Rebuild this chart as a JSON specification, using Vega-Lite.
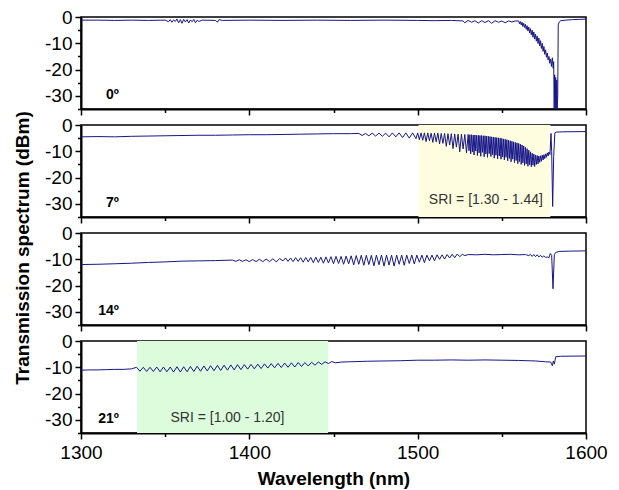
{
"$schema": "https://vega.github.io/schema/vega-lite/v6.json",
"background": "white",
"padding": {"left": 13, "top": 7, "right": 5, "bottom": 5},
"bounds": "flush",
"spacing": 16,
"title": {"text": "Transmission spectrum (dBm)", "orient": "left", "anchor": "middle", "font": "Liberation Sans", "fontSize": 19, "fontWeight": "bold", "color": "black", "offset": 11},
"config": {
  "view": {"stroke": "black", "strokeWidth": 1.5},
  "axis": {"domainColor": "black", "domainWidth": 2, "tickColor": "black", "tickWidth": 1.5, "labelFont": "Liberation Sans", "labelFontSize": 19, "labelColor": "black", "titleFont": "Liberation Sans", "titleFontSize": 19, "titleFontWeight": "bold", "titleColor": "black", "grid": false, "labelFlush": false, "labelOverlap": false}
},
"datasets": {
  "p0": [
    {"x":1300,"y":-1.2},{"x":1310,"y":-1.2},{"x":1320,"y":-1.3},{"x":1330,"y":-1.2},{"x":1340,"y":-1.3},{"x":1350,"y":-1.2},
    {"x":1352,"y":-1.8},{"x":1353,"y":-1.0},{"x":1354,"y":-2.0},{"x":1355,"y":-1.1},{"x":1356,"y":-1.7},{"x":1357,"y":-0.8},{"x":1358,"y":-2.2},{"x":1359,"y":-1.0},{"x":1360,"y":-2.4},{"x":1361,"y":-0.9},{"x":1362,"y":-1.9},{"x":1363,"y":-1.0},{"x":1364,"y":-2.3},{"x":1365,"y":-1.1},{"x":1366,"y":-1.8},{"x":1367,"y":-0.9},{"x":1368,"y":-2.2},{"x":1369,"y":-1.2},{"x":1370,"y":-1.7},{"x":1372,"y":-1.2},
    {"x":1380,"y":-1.3},{"x":1381,"y":-2.0},{"x":1382,"y":-1.0},{"x":1384,"y":-1.3},{"x":1400,"y":-1.2},{"x":1420,"y":-1.3},{"x":1440,"y":-1.2},{"x":1460,"y":-1.3},{"x":1480,"y":-1.2},{"x":1500,"y":-1.3},{"x":1510,"y":-1.4},{"x":1520,"y":-1.3},
    {"x":1527,"y":-1.5},{"x":1528,"y":-2.2},{"x":1530,"y":-1.3},{"x":1532,"y":-2.0},{"x":1534,"y":-1.4},{"x":1536,"y":-2.3},{"x":1538,"y":-1.4},{"x":1540,"y":-2.1},{"x":1542,"y":-1.4},{"x":1544,"y":-2.4},{"x":1546,"y":-1.4},{"x":1548,"y":-2.0},{"x":1550,"y":-1.5},{"x":1552,"y":-2.2},{"x":1554,"y":-1.5},{"x":1556,"y":-1.9},{"x":1558,"y":-1.5},
    {"x":1560,"y":-1.5},{"x":1560.5,"y":-2.6},{"x":1561,"y":-1.7},{"x":1561.5,"y":-3.0},{"x":1562,"y":-2.0},{"x":1562.5,"y":-3.6},{"x":1563,"y":-2.4},{"x":1563.5,"y":-4.0},{"x":1564,"y":-2.8},{"x":1564.5,"y":-4.7},{"x":1565,"y":-3.3},{"x":1565.5,"y":-5.3},{"x":1566,"y":-3.8},{"x":1566.5,"y":-6.1},{"x":1567,"y":-4.4},{"x":1567.5,"y":-6.8},{"x":1568,"y":-5.0},{"x":1568.5,"y":-7.7},{"x":1569,"y":-5.7},{"x":1569.5,"y":-8.4},{"x":1570,"y":-6.5},{"x":1570.5,"y":-9.2},{"x":1571,"y":-7.2},{"x":1571.5,"y":-10.1},{"x":1572,"y":-8.0},{"x":1572.5,"y":-11.0},{"x":1573,"y":-9.0},{"x":1573.5,"y":-12.0},{"x":1574,"y":-10.0},{"x":1574.5,"y":-13.1},{"x":1575,"y":-11.2},{"x":1575.5,"y":-14.2},{"x":1576,"y":-12.5},{"x":1576.5,"y":-15.3},{"x":1577,"y":-13.7},{"x":1577.5,"y":-16.4},{"x":1578,"y":-15.0},{"x":1578.5,"y":-17.6},{"x":1579,"y":-16.0},{"x":1579.5,"y":-18.8},{"x":1580,"y":-15.5},{"x":1580.5,"y":-19.5},
    {"x":1580.8,"y":-17},{"x":1581.1,"y":-35},{"x":1581.4,"y":-22},{"x":1581.7,"y":-35},{"x":1582.0,"y":-23},{"x":1582.3,"y":-35},{"x":1582.6,"y":-24},{"x":1582.9,"y":-35},{"x":1583.2,"y":-30},{"x":1583.5,"y":-3.0},{"x":1584,"y":-2.0},{"x":1585,"y":-1.4},{"x":1588,"y":-1.2},{"x":1592,"y":-1.0},{"x":1596,"y":-0.9},{"x":1600,"y":-0.8}
  ],
  "p7": [
    {"x":1300,"y":-4.5},{"x":1310,"y":-4.4},{"x":1320,"y":-4.5},{"x":1330,"y":-4.3},{"x":1340,"y":-4.2},{"x":1350,"y":-4.1},{"x":1360,"y":-4.0},{"x":1370,"y":-3.9},{"x":1380,"y":-3.9},{"x":1390,"y":-3.8},{"x":1400,"y":-3.7},{"x":1410,"y":-3.7},{"x":1420,"y":-3.6},{"x":1430,"y":-3.5},{"x":1440,"y":-3.4},{"x":1450,"y":-3.3},{"x":1460,"y":-3.3},
    {"x":1465,"y":-3.2},{"x":1467,"y":-4.0},{"x":1469,"y":-3.2},{"x":1471,"y":-4.1},{"x":1473,"y":-3.1},{"x":1475,"y":-4.2},{"x":1477,"y":-3.1},{"x":1479,"y":-4.3},{"x":1481,"y":-3.1},{"x":1483,"y":-4.5},{"x":1485,"y":-3.0},{"x":1487,"y":-4.5},{"x":1489,"y":-3.0},{"x":1491,"y":-4.8},{"x":1493,"y":-3.0},{"x":1495,"y":-5.0},{"x":1497,"y":-3.0},{"x":1499,"y":-5.2},
    {"x":1500,"y":-3.0},{"x":1501,"y":-5.6},{"x":1502,"y":-3.0},{"x":1503,"y":-5.8},{"x":1504,"y":-3.0},{"x":1505,"y":-6.3},{"x":1506,"y":-3.0},{"x":1507,"y":-6.0},{"x":1508,"y":-3.1},{"x":1509,"y":-6.6},{"x":1510,"y":-3.1},{"x":1511,"y":-6.4},{"x":1512,"y":-3.1},{"x":1513,"y":-7.2},{"x":1514,"y":-3.2},{"x":1515,"y":-7.0},{"x":1516,"y":-3.2},{"x":1517,"y":-8.1},{"x":1518,"y":-3.3},{"x":1519,"y":-7.6},{"x":1520,"y":-3.3},{"x":1521,"y":-9.0},{"x":1522,"y":-3.4},{"x":1523,"y":-8.4},{"x":1524,"y":-3.5},{"x":1525,"y":-10.2},{"x":1526,"y":-3.5},{"x":1527,"y":-9.1},{"x":1528,"y":-3.6},{"x":1529,"y":-10.6},
    {"x":1530,"y":-3.6},{"x":1530.5,"y":-9.8},{"x":1531,"y":-3.7},{"x":1531.5,"y":-11.0},{"x":1532,"y":-3.7},{"x":1532.5,"y":-10.2},{"x":1533,"y":-3.8},{"x":1533.5,"y":-11.4},{"x":1534,"y":-3.8},{"x":1534.5,"y":-9.9},{"x":1535,"y":-3.9},{"x":1535.5,"y":-11.6},{"x":1536,"y":-3.9},{"x":1536.5,"y":-10.6},{"x":1537,"y":-4.0},{"x":1537.5,"y":-11.9},{"x":1538,"y":-4.0},{"x":1538.5,"y":-10.4},{"x":1539,"y":-4.1},{"x":1539.5,"y":-12.1},
    {"x":1540,"y":-4.1},{"x":1540.5,"y":-11.0},{"x":1541,"y":-4.2},{"x":1541.5,"y":-12.3},{"x":1542,"y":-4.3},{"x":1542.5,"y":-10.9},{"x":1543,"y":-4.4},{"x":1543.5,"y":-12.0},{"x":1544,"y":-4.5},{"x":1544.5,"y":-11.3},{"x":1545,"y":-4.6},{"x":1545.5,"y":-12.6},{"x":1546,"y":-4.7},{"x":1546.5,"y":-11.5},{"x":1547,"y":-4.8},{"x":1547.5,"y":-12.9},{"x":1548,"y":-4.9},{"x":1548.5,"y":-11.8},{"x":1549,"y":-5.0},{"x":1549.5,"y":-13.0},
    {"x":1550,"y":-5.1},{"x":1550.5,"y":-12.1},{"x":1551,"y":-5.3},{"x":1551.5,"y":-13.3},{"x":1552,"y":-5.4},{"x":1552.5,"y":-12.3},{"x":1553,"y":-5.6},{"x":1553.5,"y":-13.6},{"x":1554,"y":-5.8},{"x":1554.5,"y":-12.7},{"x":1555,"y":-6.0},{"x":1555.5,"y":-14.0},{"x":1556,"y":-6.2},{"x":1556.5,"y":-13.0},{"x":1557,"y":-6.4},{"x":1557.5,"y":-14.3},{"x":1558,"y":-6.6},{"x":1558.5,"y":-13.5},{"x":1559,"y":-6.8},{"x":1559.5,"y":-14.7},
    {"x":1560,"y":-7.0},{"x":1560.5,"y":-13.9},{"x":1561,"y":-7.3},{"x":1561.5,"y":-15.0},{"x":1562,"y":-7.6},{"x":1562.5,"y":-14.4},{"x":1563,"y":-8.0},{"x":1563.5,"y":-15.4},{"x":1564,"y":-8.5},{"x":1564.5,"y":-14.8},{"x":1565,"y":-9.0},{"x":1565.5,"y":-15.7},{"x":1566,"y":-9.6},{"x":1566.5,"y":-15.1},{"x":1567,"y":-10.2},{"x":1567.5,"y":-15.9},{"x":1568,"y":-10.7},{"x":1568.5,"y":-15.3},{"x":1569,"y":-11.1},{"x":1569.5,"y":-15.8},
    {"x":1570,"y":-11.4},{"x":1570.5,"y":-15.0},{"x":1571,"y":-11.6},{"x":1571.5,"y":-14.8},{"x":1572,"y":-11.8},{"x":1572.5,"y":-14.2},{"x":1573,"y":-11.7},{"x":1573.5,"y":-13.8},{"x":1574,"y":-11.5},{"x":1574.5,"y":-13.3},{"x":1575,"y":-11.3},{"x":1575.5,"y":-12.8},{"x":1576,"y":-11.0},{"x":1576.5,"y":-12.3},{"x":1577,"y":-10.6},{"x":1577.5,"y":-11.8},{"x":1578,"y":-10.3},
    {"x":1578.6,"y":-11.2},{"x":1579.2,"y":-3.2},{"x":1579.6,"y":-10},{"x":1580.2,"y":-31},{"x":1580.8,"y":-12},{"x":1581.5,"y":-3.0},{"x":1582.5,"y":-2.7},{"x":1586,"y":-2.6},{"x":1600,"y":-2.5}
  ],
  "p14": [
    {"x":1300,"y":-12.0},{"x":1310,"y":-11.9},{"x":1320,"y":-11.7},{"x":1330,"y":-11.5},{"x":1340,"y":-11.2},{"x":1350,"y":-11.0},{"x":1360,"y":-10.7},{"x":1370,"y":-10.6},{"x":1380,"y":-10.5},
    {"x":1390,"y":-10.3},{"x":1392,"y":-10.8},{"x":1394,"y":-10.2},{"x":1396,"y":-10.8},{"x":1398,"y":-10.2},{"x":1400,"y":-10.9},{"x":1402,"y":-10.1},{"x":1404,"y":-10.9},{"x":1406,"y":-10.0},{"x":1408,"y":-10.9},{"x":1410,"y":-9.9},{"x":1412,"y":-10.9},{"x":1414,"y":-9.8},{"x":1416,"y":-11.0},{"x":1418,"y":-9.7},
    {"x":1420,"y":-10.6},{"x":1421.5,"y":-9.5},{"x":1423,"y":-10.8},{"x":1424.5,"y":-9.5},{"x":1426,"y":-10.9},{"x":1427.5,"y":-9.4},{"x":1429,"y":-10.8},{"x":1430.5,"y":-9.4},{"x":1432,"y":-11.1},{"x":1433.5,"y":-9.3},{"x":1435,"y":-11.0},{"x":1436.5,"y":-9.3},{"x":1438,"y":-11.3},{"x":1439.5,"y":-9.2},{"x":1441,"y":-11.2},{"x":1442.5,"y":-9.2},{"x":1444,"y":-11.5},{"x":1445.5,"y":-9.1},{"x":1447,"y":-11.4},{"x":1448.5,"y":-9.0},{"x":1450,"y":-11.7},{"x":1451.5,"y":-8.9},{"x":1453,"y":-11.6},{"x":1454.5,"y":-8.9},{"x":1456,"y":-11.9},{"x":1457.5,"y":-8.8},{"x":1459,"y":-11.7},{"x":1460.5,"y":-8.7},{"x":1462,"y":-12.1},{"x":1463.5,"y":-8.6},{"x":1465,"y":-11.9},{"x":1466.5,"y":-8.5},{"x":1468,"y":-12.3},{"x":1469.5,"y":-8.5},{"x":1471,"y":-12.0},{"x":1472.5,"y":-8.5},{"x":1474,"y":-12.5},{"x":1475.5,"y":-8.4},{"x":1477,"y":-12.1},{"x":1478.5,"y":-8.4},{"x":1480,"y":-12.6},{"x":1481.5,"y":-8.4},{"x":1483,"y":-12.2},{"x":1484.5,"y":-8.4},{"x":1486,"y":-12.6},{"x":1487.5,"y":-8.4},{"x":1489,"y":-11.9},{"x":1490.5,"y":-8.4},{"x":1492,"y":-12.3},{"x":1493.5,"y":-8.4},{"x":1495,"y":-11.6},{"x":1496.5,"y":-8.4},{"x":1498,"y":-11.8},{"x":1499.5,"y":-8.4},{"x":1501,"y":-11.1},{"x":1502.5,"y":-8.4},{"x":1504,"y":-11.3},{"x":1505.5,"y":-8.4},{"x":1507,"y":-10.6},{"x":1508.5,"y":-8.4},{"x":1510,"y":-10.6},{"x":1511.5,"y":-8.3},{"x":1513,"y":-10.0},{"x":1514.5,"y":-8.3},{"x":1516,"y":-9.9},{"x":1517.5,"y":-8.2},{"x":1519,"y":-9.5},{"x":1520.5,"y":-8.1},{"x":1522,"y":-9.4},{"x":1523.5,"y":-8.0},{"x":1525,"y":-9.0},{"x":1526.5,"y":-8.1},{"x":1528,"y":-8.6},
    {"x":1530,"y":-8.2},{"x":1535,"y":-8.3},{"x":1540,"y":-8.1},{"x":1545,"y":-8.3},{"x":1550,"y":-8.2},{"x":1555,"y":-8.1},{"x":1560,"y":-8.3},{"x":1564,"y":-8.2},{"x":1566,"y":-8.6},{"x":1567,"y":-8.1},{"x":1568,"y":-8.9},{"x":1569,"y":-8.2},{"x":1570,"y":-9.0},{"x":1571,"y":-8.3},{"x":1572,"y":-9.1},{"x":1573,"y":-8.5},{"x":1574,"y":-9.2},{"x":1575,"y":-8.7},{"x":1576,"y":-9.3},{"x":1577,"y":-9.1},{"x":1578,"y":-9.4},
    {"x":1578.8,"y":-7.8},{"x":1579.6,"y":-8.5},{"x":1580.4,"y":-21.2},{"x":1581.2,"y":-8.2},{"x":1582,"y":-7.4},{"x":1584,"y":-7.0},{"x":1590,"y":-6.9},{"x":1600,"y":-6.8}
  ],
  "p21": [
    {"x":1300,"y":-11.1},{"x":1305,"y":-11.0},{"x":1310,"y":-11.0},{"x":1315,"y":-10.9},{"x":1320,"y":-10.8},{"x":1325,"y":-10.8},{"x":1330,"y":-10.6},
    {"x":1333,"y":-10.0},{"x":1335,"y":-11.5},{"x":1337,"y":-10.0},{"x":1339,"y":-11.6},{"x":1341,"y":-10.0},{"x":1343,"y":-11.6},{"x":1345,"y":-9.9},{"x":1347,"y":-11.7},{"x":1349,"y":-9.9},{"x":1351,"y":-11.7},{"x":1353,"y":-9.9},{"x":1355,"y":-11.8},{"x":1357,"y":-9.8},{"x":1359,"y":-11.8},{"x":1361,"y":-9.8},{"x":1363,"y":-11.7},{"x":1365,"y":-9.7},{"x":1367,"y":-11.6},{"x":1369,"y":-9.6},{"x":1371,"y":-11.5},{"x":1373,"y":-9.5},{"x":1375,"y":-11.4},{"x":1377,"y":-9.4},{"x":1379,"y":-11.3},{"x":1381,"y":-9.3},{"x":1383,"y":-11.2},{"x":1385,"y":-9.2},{"x":1387,"y":-11.1},{"x":1389,"y":-9.1},{"x":1391,"y":-11.0},{"x":1393,"y":-9.0},{"x":1395,"y":-10.9},{"x":1397,"y":-9.0},{"x":1399,"y":-10.7},{"x":1401,"y":-8.9},{"x":1403,"y":-10.6},{"x":1405,"y":-8.8},{"x":1407,"y":-10.5},{"x":1409,"y":-8.7},{"x":1411,"y":-10.3},{"x":1413,"y":-8.6},{"x":1415,"y":-10.2},{"x":1417,"y":-8.5},{"x":1419,"y":-10.1},{"x":1421,"y":-8.4},{"x":1423,"y":-10.0},{"x":1425,"y":-8.3},{"x":1427,"y":-9.9},{"x":1429,"y":-8.2},{"x":1431,"y":-9.7},{"x":1433,"y":-8.2},{"x":1435,"y":-9.5},{"x":1437,"y":-8.1},{"x":1439,"y":-9.2},{"x":1441,"y":-8.0},{"x":1443,"y":-8.9},{"x":1445,"y":-7.9},{"x":1447,"y":-8.6},{"x":1449,"y":-7.8},{"x":1451,"y":-8.3},
    {"x":1455,"y":-8.0},{"x":1460,"y":-7.9},{"x":1470,"y":-7.7},{"x":1480,"y":-7.6},{"x":1490,"y":-7.5},{"x":1500,"y":-7.3},{"x":1510,"y":-7.3},{"x":1520,"y":-7.2},{"x":1530,"y":-7.3},{"x":1540,"y":-7.2},{"x":1550,"y":-7.3},{"x":1560,"y":-7.4},{"x":1570,"y":-7.6},{"x":1576,"y":-7.9},{"x":1579,"y":-8.0},{"x":1580,"y":-9.4},{"x":1580.6,"y":-7.6},{"x":1581.2,"y":-8.8},{"x":1582,"y":-6.0},{"x":1585,"y":-5.8},{"x":1600,"y":-5.7}
  ],
  "shade": [
    {"panel":"7","x0":1500.5,"x1":1578.8},
    {"panel":"21","x0":1333.3,"x1":1446.8}
  ],
  "labels": [
    {"panel":"0","kind":"deg","text":"0º","x":1322.5,"y":-31.3},
    {"panel":"7","kind":"deg","text":"7º","x":1322.5,"y":-31.3},
    {"panel":"14","kind":"deg","text":"14º","x":1322.5,"y":-31.3},
    {"panel":"21","kind":"deg","text":"21º","x":1322.5,"y":-31.3},
    {"panel":"7","kind":"sri","text":"SRI = [1.30 - 1.44]","x":1540.5,"y":-30.2},
    {"panel":"21","kind":"sri","text":"SRI = [1.00 - 1.20]","x":1387,"y":-30.8}
  ]
},
"vconcat": [
  {
    "width": 505, "height": 92,
    "resolve": {"axis": {"x": "independent", "y": "independent"}},
    "layer": [
      {"data": {"name": "p0"}, "mark": {"type": "line", "color": "#16168a", "strokeWidth": 1, "clip": true},
       "encoding": {
         "x": {"field": "x", "type": "quantitative", "scale": {"domain": [1300, 1600], "nice": false, "zero": false}, "axis": {"orient": "bottom", "title": null, "labels": false, "values": [1300,1400,1500,1600], "tickSize": 6}},
         "y": {"field": "y", "type": "quantitative", "scale": {"domain": [-35, 0], "nice": false, "zero": false}, "axis": {"orient": "left", "title": null, "values": [-30,-20,-10,0], "labelExpr": "'' + datum.value", "labelPadding": 3, "tickSize": 6}}
       }},
      {"data": {"name": "labels"}, "transform": [{"filter": "datum.panel === '0'"}], "mark": {"type": "text", "align": "right", "baseline": "alphabetic", "font": "Liberation Sans", "fontSize": 14, "fontWeight": "bold", "color": "black"},
       "encoding": {
         "x": {"field": "x", "type": "quantitative", "scale": {"domain": [1300, 1600], "nice": false, "zero": false}, "axis": {"orient": "bottom", "title": null, "labels": false, "domain": false, "values": [1350,1450,1550], "tickSize": 3.5}},
         "y": {"field": "y", "type": "quantitative", "scale": {"domain": [-35, 0], "nice": false, "zero": false}, "axis": {"orient": "left", "title": null, "labels": false, "domain": false, "values": [-35,-25,-15,-5], "tickSize": 3.5}},
         "text": {"field": "text"}}}
    ]
  },
  {
    "width": 505, "height": 92,
    "resolve": {"axis": {"x": "independent", "y": "independent"}},
    "layer": [
      {"data": {"name": "shade"}, "transform": [{"filter": "datum.panel === '7'"}], "mark": {"type": "rect", "color": "#FFFDE0", "opacity": 1},
       "encoding": {"x": {"field": "x0", "type": "quantitative", "scale": {"domain": [1300, 1600], "nice": false, "zero": false}, "axis": null}, "x2": {"field": "x1"}}},
      {"data": {"name": "p7"}, "mark": {"type": "line", "color": "#16168a", "strokeWidth": 1, "clip": true},
       "encoding": {
         "x": {"field": "x", "type": "quantitative", "scale": {"domain": [1300, 1600], "nice": false, "zero": false}, "axis": {"orient": "bottom", "title": null, "labels": false, "values": [1300,1400,1500,1600], "tickSize": 6}},
         "y": {"field": "y", "type": "quantitative", "scale": {"domain": [-35, 0], "nice": false, "zero": false}, "axis": {"orient": "left", "title": null, "values": [-30,-20,-10,0], "labelExpr": "'' + datum.value", "labelPadding": 3, "tickSize": 6}}
       }},
      {"data": {"name": "labels"}, "transform": [{"filter": "datum.panel === '7' && datum.kind === 'deg'"}], "mark": {"type": "text", "align": "right", "baseline": "alphabetic", "font": "Liberation Sans", "fontSize": 14, "fontWeight": "bold", "color": "black"},
       "encoding": {
         "x": {"field": "x", "type": "quantitative", "scale": {"domain": [1300, 1600], "nice": false, "zero": false}, "axis": {"orient": "bottom", "title": null, "labels": false, "domain": false, "values": [1350,1450,1550], "tickSize": 3.5}},
         "y": {"field": "y", "type": "quantitative", "scale": {"domain": [-35, 0], "nice": false, "zero": false}, "axis": {"orient": "left", "title": null, "labels": false, "domain": false, "values": [-35,-25,-15,-5], "tickSize": 3.5}},
         "text": {"field": "text"}}},
      {"data": {"name": "labels"}, "transform": [{"filter": "datum.panel === '7' && datum.kind === 'sri'"}], "mark": {"type": "text", "align": "center", "baseline": "alphabetic", "font": "Liberation Sans", "fontSize": 14, "color": "#333333"},
       "encoding": {"x": {"field": "x", "type": "quantitative", "scale": {"domain": [1300, 1600], "nice": false, "zero": false}, "axis": null}, "y": {"field": "y", "type": "quantitative", "scale": {"domain": [-35, 0], "nice": false, "zero": false}, "axis": null}, "text": {"field": "text"}}}
    ]
  },
  {
    "width": 505, "height": 92,
    "resolve": {"axis": {"x": "independent", "y": "independent"}},
    "layer": [
      {"data": {"name": "p14"}, "mark": {"type": "line", "color": "#16168a", "strokeWidth": 1, "clip": true},
       "encoding": {
         "x": {"field": "x", "type": "quantitative", "scale": {"domain": [1300, 1600], "nice": false, "zero": false}, "axis": {"orient": "bottom", "title": null, "labels": false, "values": [1300,1400,1500,1600], "tickSize": 6}},
         "y": {"field": "y", "type": "quantitative", "scale": {"domain": [-35, 0], "nice": false, "zero": false}, "axis": {"orient": "left", "title": null, "values": [-30,-20,-10,0], "labelExpr": "'' + datum.value", "labelPadding": 3, "tickSize": 6}}
       }},
      {"data": {"name": "labels"}, "transform": [{"filter": "datum.panel === '14'"}], "mark": {"type": "text", "align": "right", "baseline": "alphabetic", "font": "Liberation Sans", "fontSize": 14, "fontWeight": "bold", "color": "black"},
       "encoding": {
         "x": {"field": "x", "type": "quantitative", "scale": {"domain": [1300, 1600], "nice": false, "zero": false}, "axis": {"orient": "bottom", "title": null, "labels": false, "domain": false, "values": [1350,1450,1550], "tickSize": 3.5}},
         "y": {"field": "y", "type": "quantitative", "scale": {"domain": [-35, 0], "nice": false, "zero": false}, "axis": {"orient": "left", "title": null, "labels": false, "domain": false, "values": [-35,-25,-15,-5], "tickSize": 3.5}},
         "text": {"field": "text"}}}
    ]
  },
  {
    "width": 505, "height": 92,
    "resolve": {"axis": {"x": "independent", "y": "independent"}},
    "layer": [
      {"data": {"name": "shade"}, "transform": [{"filter": "datum.panel === '21'"}], "mark": {"type": "rect", "color": "#DCFCDC", "opacity": 1},
       "encoding": {"x": {"field": "x0", "type": "quantitative", "scale": {"domain": [1300, 1600], "nice": false, "zero": false}, "axis": null}, "x2": {"field": "x1"}}},
      {"data": {"name": "p21"}, "mark": {"type": "line", "color": "#16168a", "strokeWidth": 1, "clip": true},
       "encoding": {
         "x": {"field": "x", "type": "quantitative", "scale": {"domain": [1300, 1600], "nice": false, "zero": false}, "axis": {"orient": "bottom", "title": "Wavelength (nm)", "values": [1300,1400,1500,1600], "labelExpr": "'' + datum.value", "labelPadding": 4, "titlePadding": 7, "tickSize": 6}},
         "y": {"field": "y", "type": "quantitative", "scale": {"domain": [-35, 0], "nice": false, "zero": false}, "axis": {"orient": "left", "title": null, "values": [-30,-20,-10,0], "labelExpr": "'' + datum.value", "labelPadding": 3, "tickSize": 6}}
       }},
      {"data": {"name": "labels"}, "transform": [{"filter": "datum.panel === '21' && datum.kind === 'deg'"}], "mark": {"type": "text", "align": "right", "baseline": "alphabetic", "font": "Liberation Sans", "fontSize": 14, "fontWeight": "bold", "color": "black"},
       "encoding": {
         "x": {"field": "x", "type": "quantitative", "scale": {"domain": [1300, 1600], "nice": false, "zero": false}, "axis": {"orient": "bottom", "title": null, "labels": false, "domain": false, "values": [1350,1450,1550], "tickSize": 3.5}},
         "y": {"field": "y", "type": "quantitative", "scale": {"domain": [-35, 0], "nice": false, "zero": false}, "axis": {"orient": "left", "title": null, "labels": false, "domain": false, "values": [-35,-25,-15,-5], "tickSize": 3.5}},
         "text": {"field": "text"}}},
      {"data": {"name": "labels"}, "transform": [{"filter": "datum.panel === '21' && datum.kind === 'sri'"}], "mark": {"type": "text", "align": "center", "baseline": "alphabetic", "font": "Liberation Sans", "fontSize": 14, "color": "#333333"},
       "encoding": {"x": {"field": "x", "type": "quantitative", "scale": {"domain": [1300, 1600], "nice": false, "zero": false}, "axis": null}, "y": {"field": "y", "type": "quantitative", "scale": {"domain": [-35, 0], "nice": false, "zero": false}, "axis": null}, "text": {"field": "text"}}}
    ]
  }
]
}
